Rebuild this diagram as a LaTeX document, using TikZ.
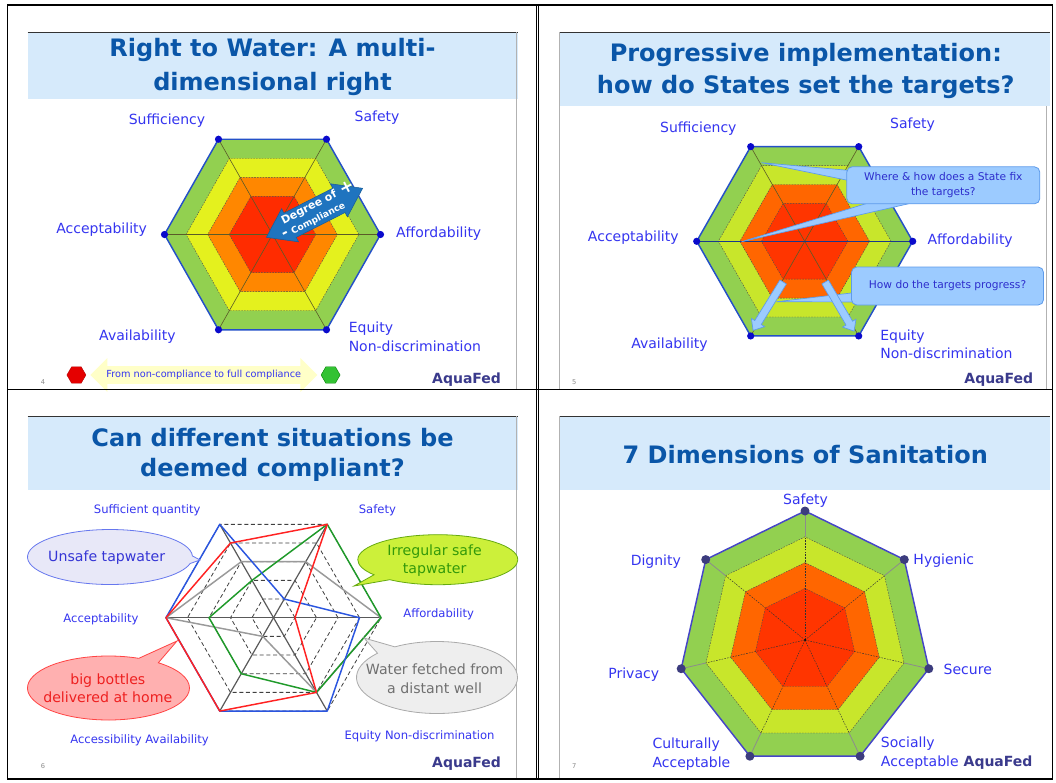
\documentclass[tikz,border=0pt]{standalone}
\usepackage{fontspec}
\setmainfont{DejaVu Sans}
\usetikzlibrary{shapes.arrows,shapes.callouts,shapes.geometric}
\definecolor{bandc}{HTML}{D6EAFB}
\definecolor{ttlc}{HTML}{0A56A8}
\definecolor{lblc}{HTML}{3535F0}
\definecolor{aquac}{HTML}{3A3A8C}
\definecolor{edgec}{HTML}{2450C8}
\definecolor{dotc}{HTML}{0A0ACC}
\definecolor{gA}{HTML}{92D050}
\definecolor{yA}{HTML}{E4F11E}
\definecolor{oA}{HTML}{FF8700}
\definecolor{rA}{HTML}{FF2C00}
\definecolor{yB}{HTML}{C8E62B}
\definecolor{oB}{HTML}{FF6600}
\definecolor{rB}{HTML}{FF3500}
\definecolor{spk}{HTML}{5A5A28}
\definecolor{cfill}{HTML}{9CCBFF}
\definecolor{cdraw}{HTML}{5E9BEA}
\definecolor{ctext}{HTML}{2D2DCC}
\definecolor{dcomp}{HTML}{1F74BF}
\definecolor{legy}{HTML}{FFFFC8}
\definecolor{dataB}{HTML}{2A55E0}
\definecolor{dataR}{HTML}{FF2222}
\definecolor{dataG}{HTML}{1F9A2A}
\definecolor{dataK}{HTML}{9A9A9A}
\definecolor{hepdot}{HTML}{3C3C7E}
\definecolor{hepedge}{HTML}{4545C8}
\definecolor{cAf}{HTML}{E8E8F8}
\definecolor{cAd}{HTML}{6677EE}
\definecolor{cAt}{HTML}{3535D5}
\definecolor{cBf}{HTML}{CCF03A}
\definecolor{cBd}{HTML}{66AA10}
\definecolor{cBt}{HTML}{33990A}
\definecolor{cCf}{HTML}{FFB0B0}
\definecolor{cCd}{HTML}{FF4444}
\definecolor{cCt}{HTML}{EE2020}
\definecolor{cDf}{HTML}{EEEEEE}
\definecolor{cDd}{HTML}{AAAAAA}
\definecolor{cDt}{HTML}{707070}
\newdimen\pxu \pxu=0.75pt
% spoke coordinates: #1 prefix, #2 cx, #3 cy, #4 rx, #5 ry, #6 sides, #7 start angle, #8 last index
\newcommand\mkspokes[8]{%
  \coordinate (#1c) at (#2,#3);
  \foreach \k in {0,...,#8} {
    \foreach \L in {2,4,6,8,10} {
      \coordinate (#1\L-\k) at ({#2+\L/10*#4*cos(#7+\k*360/#6)},{#3-\L/10*#5*sin(#7+\k*360/#6)});
    }
  }%
}
% polygon: #1 style, #2 prefix, #3 level, #4 last index
\newcommand\poly[4]{%
  \path[#1] (#2#3-0) \foreach \k in {1,...,#4} { -- (#2#3-\k) } -- cycle;%
}
\begin{document}
\begin{tikzpicture}[x=0.75pt,y=-0.75pt,
  lbl/.style={text=lblc,font=\fontsize{10.5}{12}\selectfont,inner sep=0pt},
  slbl/.style={text=lblc,font=\fontsize{8.7}{10}\selectfont,inner sep=0pt},
  ttl/.style={text=ttlc,align=center,inner sep=0pt},
  aqua/.style={text=aquac,font=\bfseries\fontsize{10.5}{12}\selectfont,inner sep=0pt},
  pnum/.style={text=black!45,font=\fontsize{5}{6}\selectfont,inner sep=0pt},
  band/.style={fill=bandc},
  bandtop/.style={draw=black!80,line width=0.6pt},
  sedge/.style={draw=black!30,line width=0.6pt},
  tbl/.style={draw=black,line width=0.9pt},
  bnd/.style={draw=black!70,line width=0.3pt,dash pattern=on 1.2pt off 0.9pt},
  spokeA/.style={draw=spk,line width=0.45pt},
  outedge/.style={draw=edgec,line width=1.1pt,line join=round},
  cbox/.style={draw=cdraw,fill=cfill,rounded corners=4pt,text=ctext,font=\fontsize{8}{11}\selectfont,align=center,inner sep=0pt,line width=0.6pt},
  wedgeb/.style={draw=cdraw,fill=cfill,line width=0.5pt,line join=round},
  barrow/.style={single arrow,draw=cdraw,fill=cfill,line width=0.5pt,inner sep=0pt,single arrow head extend=3pt,single arrow tip angle=80,minimum height=57\pxu,minimum width=15\pxu},
  grid3/.style={draw=black!75,line width=0.6pt,dash pattern=on 3pt off 2pt},
  spoke3/.style={draw=black!65,line width=0.9pt},
  data/.style={line width=1.1pt,line join=round},
  ecall/.style={ellipse callout,line width=0.6pt,inner sep=0pt,callout pointer arc=16},
  ctxt/.style={font=\fontsize{10.6}{13.8}\selectfont,align=center,inner sep=0pt},
  spokeD/.style={draw=black!80,line width=0.35pt,dash pattern=on 1.2pt off 0.9pt},
  spokeG/.style={draw=black!45,line width=0.6pt}
]
\useasboundingbox (0,0) rectangle (1056,782);
\fill[white] (0,0) rectangle (1056,782);

% ================= slide 1 =================
\fill[band] (27.5,32.3) rectangle (517.5,99.3);
\draw[bandtop] (27.5,32.3) -- (517.5,32.3);
\draw[sedge] (516.5,32.3) -- (516.5,389);
\node[ttl,font=\bfseries\fontsize{18}{25}\selectfont] (t1) at (272.5,67) {Right to Water: A multi-\\dimensional right};

\mkspokes{P}{272.5}{234.5}{108}{110}{6}{0}{5}
\poly{fill=gA}{P}{10}{5}
\poly{fill=yA}{P}{8}{5}
\poly{fill=oA}{P}{6}{5}
\poly{fill=rA}{P}{4}{5}
\poly{bnd}{P}{8}{5}
\poly{bnd}{P}{6}{5}
\poly{bnd}{P}{4}{5}
\foreach \k in {0,...,5} {\draw[spokeA] (Pc) -- (P10-\k);}
\poly{outedge}{P}{10}{5}
\foreach \k in {0,...,5} {\fill[dotc] (P10-\k) circle (3.6);}

\node[lbl] (s1a) at (167,120.7) {Sufficiency};
\node[lbl] (s1b) at (377,117.3) {Safety};
\node[lbl] (s1c) at (101.6,229.3) {Acceptability};
\node[lbl] (s1d) at (438.7,233.3) {Affordability};
\node[lbl] (s1e) at (137.4,336.7) {Availability};
\node[lbl,align=left,anchor=west,font=\fontsize{10.5}{14}\selectfont] (s1f) at (348.5,336.7) {Equity\\Non-discrimination};

\node[double arrow,fill=dcomp,draw=dcomp!80!black,line width=0.4pt,
  double arrow head extend=5\pxu,double arrow tip angle=70,inner sep=0pt,
  minimum height=108\pxu,minimum width=37\pxu,rotate=27] (dca) at (314.5,212.8) {\rule{0pt}{20pt}};
\node[text=white,inner sep=0pt,rotate=27,font=\bfseries\fontsize{8}{10}\selectfont] (dgt) at (318.3,210.9)
  {\begin{tabular}{@{}l@{}}\hspace*{6\pxu}{\fontsize{8.2}{10}\selectfont Degree of}\hspace{5\pxu}\raisebox{-1pt}{\fontsize{13}{10}\selectfont +}\\
   {\fontsize{11}{10}\selectfont -}\hspace{4\pxu}{\fontsize{6.8}{10}\selectfont Compliance}\end{tabular}};

\node[regular polygon,regular polygon sides=6,minimum size=19\pxu,inner sep=0pt,fill=red!90!black,draw=red!70!black,line width=0.3pt] (l1r) at (76.4,375) {};
\node[regular polygon,regular polygon sides=6,minimum size=19\pxu,inner sep=0pt,fill=green!70!black!80,draw=green!50!black,line width=0.3pt] (l1g) at (330.6,375) {};
\node[double arrow,fill=legy,double arrow head extend=6pt,double arrow tip angle=90,inner ysep=3pt,inner xsep=0pt,
  minimum height=227\pxu,text=lblc,font=\fontsize{7.3}{8}\selectfont] (l1a) at (203.8,375) {From non-compliance to full compliance};
\node[pnum] (n1) at (43,381.7) {4};
\node[aqua] (aq1) at (466.6,380) {AquaFed};

% ================= slide 2 =================
\fill[band] (559.3,32.3) rectangle (1050,106);
\draw[bandtop] (559.3,32.3) -- (1050,32.3);
\draw[sedge] (559.3,32.3) -- (559.3,389);
\draw[sedge] (1046,106) -- (1046,389);
\node[ttl,font=\bfseries\fontsize{18}{24.2}\selectfont] (t2) at (805.8,71.2) {Progressive implementation:\\how do States set the targets?};

\mkspokes{Q}{804.7}{241.3}{108}{109.3}{6}{0}{5}
\poly{fill=gA}{Q}{10}{5}
\poly{fill=yB}{Q}{8}{5}
\poly{fill=oB}{Q}{6}{5}
\poly{fill=rB}{Q}{4}{5}
\poly{bnd}{Q}{8}{5}
\poly{bnd}{Q}{6}{5}
\poly{bnd}{Q}{4}{5}
\foreach \k in {0,...,5} {\draw[spokeA] (Qc) -- (Q10-\k);}
\draw[draw=edgec!70!black,line width=0.7pt] (Q10-3) -- (Q10-0);
\poly{outedge}{Q}{10}{5}
\foreach \k in {0,...,5} {\fill[dotc] (Q10-\k) circle (3.6);}

\node[lbl] (s2a) at (698.3,128.3) {Sufficiency};
\node[lbl] (s2b) at (912.5,125) {Safety};
\node[lbl] (s2c) at (633.3,237.3) {Acceptability};
\node[lbl] (s2d) at (970.2,240.7) {Affordability};
\node[lbl] (s2e) at (669.5,345) {Availability};
\node[lbl,align=left,anchor=west,font=\fontsize{10.5}{13.7}\selectfont] (s2f) at (880,344.2) {Equity\\Non-discrimination};

\coordinate (w1t) at (761.7,162.7);
\coordinate (w1a) at (856,171);
\coordinate (w1b) at (856,182);
\coordinate (w2t) at (741.7,241.7);
\coordinate (w2a) at (878,200);
\coordinate (w2b) at (925,200);
\coordinate (w3t) at (776.7,301.7);
\coordinate (w3a) at (860,292);
\coordinate (w3b) at (860,302);
\fill[wedgeb] (w1t) -- (w1a) -- (w1b) -- cycle;
\fill[wedgeb] (w2t) -- (w2a) -- (w2b) -- cycle;
\fill[wedgeb] (w3t) -- (w3a) -- (w3b) -- cycle;
\node[cbox,minimum width=193\pxu,minimum height=37\pxu] (cb1) at (943.3,185.3) {Where \& how does a State fix\\the targets?};
\node[cbox,minimum width=192\pxu,minimum height=38\pxu] (cb2) at (947.5,286) {How do the targets progress?};
\node[barrow,rotate=238.2,anchor=tail] (ba1) at (783.3,281.7) {\rule{0pt}{5.2pt}};
\node[barrow,rotate=300.4,anchor=tail] (ba2) at (825,281.7) {\rule{0pt}{5.2pt}};
\node[pnum] (n2) at (574.3,382.3) {5};
\node[aqua] (aq2) at (998.8,379.3) {AquaFed};

% ================= slide 3 =================
\fill[band] (27.5,416.3) rectangle (517.5,489.7);
\draw[bandtop] (27.5,416.3) -- (517.5,416.3);
\draw[sedge] (516.5,416.3) -- (516.5,778);
\node[ttl,font=\bfseries\fontsize{18}{22.5}\selectfont] (t3) at (272.5,455) {Can different situations be\\deemed compliant?};

\mkspokes{S}{273.5}{617.7}{107.5}{107.8}{6}{0}{5}
\poly{grid3}{S}{2}{5}
\poly{grid3}{S}{4}{5}
\poly{grid3}{S}{6}{5}
\poly{grid3}{S}{8}{5}
\poly{grid3}{S}{10}{5}
\draw[spoke3] (S10-0) -- (S10-3);
\draw[spoke3] (S10-1) -- (S10-4);
\draw[spoke3] (S10-2) -- (S10-5);
\draw[data,draw=dataK] (S6-2) -- (S6-1) -- (S10-0) -- (S8-5) -- (S2-4) -- (S10-3) -- cycle;
\draw[data,draw=dataG] (S4-2) -- (S10-1) -- (S10-0) -- (S8-5) -- (S6-4) -- (S6-3) -- cycle;
\draw[data,draw=dataB] (S10-2) -- (S2-1) -- (S8-0) -- (S10-5) -- (S10-4) -- (S10-3) -- cycle;
\draw[data,draw=dataR] (S8-2) -- (S10-1) -- (S2-0) -- (S8-5) -- (S10-4) -- (S10-3) -- cycle;

\node[slbl] (s3a) at (147.2,510.3) {Sufficient quantity};
\node[slbl] (s3b) at (377.4,510.3) {Safety};
\node[slbl] (s3c) at (101,619) {Acceptability};
\node[slbl] (s3d) at (438.7,614.3) {Affordability};
\node[slbl] (s3e) at (139.5,740) {Accessibility Availability};
\node[slbl] (s3f) at (419.6,736) {Equity Non-discrimination};

\node[ecall,draw=cAd,fill=cAf,minimum width=165\pxu,minimum height=55\pxu,callout absolute pointer={(200,560)}] (ec1) at (110,557) {};
\node[ctxt,text=cAt] (ec1t) at (106.7,557.3) {Unsafe tapwater};
\node[ecall,draw=cBd,fill=cBf,minimum width=160\pxu,minimum height=50\pxu,callout absolute pointer={(354,586)}] (ec2) at (437.8,559.7) {};
\node[ctxt,text=cBt] (ec2t) at (434.6,560.5) {Irregular safe\\tapwater};
\node[ecall,draw=cCd,fill=cCf,minimum width=162\pxu,minimum height=64\pxu,callout absolute pointer={(177,641)}] (ec3) at (108.5,688) {};
\node[ctxt,text=cCt] (ec3t) at (107.8,688.2) {big bottles\\delivered at home};
\node[ecall,draw=cDd,fill=cDf,minimum width=161\pxu,minimum height=72\pxu,callout absolute pointer={(364,638)}] (ec4) at (437,677.5) {};
\node[ctxt,text=cDt,font=\fontsize{10.6}{14.3}\selectfont] (ec4t) at (434.6,678.8) {Water fetched from\\a distant well};
\node[pnum] (n3) at (43,766) {6};
\node[aqua] (aq3) at (466.6,763.3) {AquaFed};

% ================= slide 4 =================
\fill[band] (559.3,416.3) rectangle (1050,489.7);
\draw[bandtop] (559.3,416.3) -- (1050,416.3);
\draw[sedge] (559.3,416.3) -- (559.3,778);
\node[ttl,font=\bfseries\fontsize{18}{24}\selectfont] (t4) at (805.3,454.7) {7 Dimensions of Sanitation};

\mkspokes{T}{805}{640}{127}{129}{7}{90}{6}
\poly{fill=gA}{T}{10}{6}
\poly{fill=yB}{T}{8}{6}
\poly{fill=oB}{T}{6}{6}
\poly{fill=rB}{T}{4}{6}
\poly{bnd}{T}{8}{6}
\poly{bnd}{T}{6}{6}
\poly{bnd}{T}{4}{6}
\foreach \k in {0,...,6} {\draw[spokeD] (Tc) -- (T8-\k); \draw[spokeG] (T8-\k) -- (T10-\k);}
\fill[black] (Tc) circle (1);
\poly{draw=hepedge,line width=1.1pt,line join=round}{T}{10}{6}
\foreach \k in {0,...,6} {\fill[hepdot] (T10-\k) circle (4.5);}

\node[lbl] (s4a) at (805.5,500.7) {Safety};
\node[lbl] (s4b) at (655.8,561.3) {Dignity};
\node[lbl] (s4c) at (943.8,560.7) {Hygienic};
\node[lbl] (s4d) at (633.7,675) {Privacy};
\node[lbl] (s4e) at (967.8,669.3) {Secure};
\node[lbl,align=left,anchor=west,font=\fontsize{10.5}{14.3}\selectfont] (s4f) at (652.3,753.8) {Culturally\\Acceptable};
\node[lbl,align=left,anchor=west,font=\fontsize{10.5}{14.3}\selectfont] (s4g) at (880.7,753) {Socially\\Acceptable};
\node[pnum] (n4) at (574.3,766) {7};
\node[aqua,anchor=east] (aq4) at (1032.7,762.7) {AquaFed};

% ================= table frame =================
\draw[tbl] (7.6,5) rectangle (1052.3,779);
\draw[tbl,line width=0.7pt] (536.3,5) -- (536.3,779);
\draw[tbl,line width=0.7pt] (538.8,5) -- (538.8,779);
\draw[tbl] (7.6,389.3) -- (1052.3,389.3);
\end{tikzpicture}
\end{document}
